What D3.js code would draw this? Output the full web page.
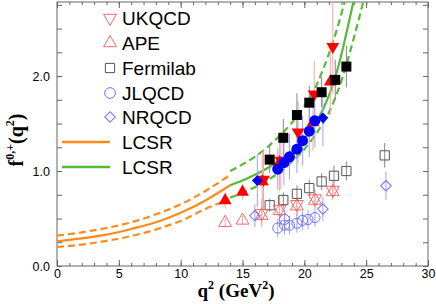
<!DOCTYPE html>
<html>
<head>
<meta charset="utf-8">
<script src="https://cdn.jsdelivr.net/npm/d3@7/dist/d3.min.js"></script>
<style>
  body { margin: 0; background: #fff; }
  svg { display: block; }
</style>
</head>
<body>
<svg id="chart" width="436" height="304"></svg>
<script>
// lattice data: [q2, f, error]
const ukqcdPlus = [[16.7, 0.91, 0.32], [18.1, 1.11, 0.30], [19.5, 1.41, 0.33], [20.8, 1.81, 0.35], [22.3, 2.31, 0.5]];
const apePlus = [[13.6, 0.69, 0.08], [15.0, 0.78, 0.08], [16.6, 0.89, 0.3], [18.0, 1.09, 0.3], [20.7, 1.51, 0.3], [22.1, 1.94, 0.35]];
const fermiPlus = [[17.2, 1.12, 0.14], [18.3, 1.35, 0.2], [19.4, 1.59, 0.23], [20.4, 1.72, 0.18], [21.4, 1.83, 0.16], [22.5, 1.96, 0.21], [23.4, 2.10, 0.22]];
const jlqcdPlus = [[17.85, 1.02, 0.22], [18.35, 1.09, 0.24], [18.8, 1.15, 0.24], [19.4, 1.23, 0.25], [19.86, 1.32, 0.26], [20.4, 1.42, 0.27], [20.85, 1.53, 0.28]];
const nrqcdPlus = [[16.2, 0.90, 0.28], [21.5, 1.56, 0.3]];

const ukqcdZero = [[16.55, 0.555, 0.15], [18.0, 0.60, 0.15], [19.4, 0.65, 0.12], [20.86, 0.71, 0.1], [22.3, 0.80, 0.1]];
const apeZero = [[13.6, 0.456, 0.05], [15.0, 0.48, 0.05], [16.55, 0.53, 0.1], [18.0, 0.58, 0.1], [19.4, 0.63, 0.1], [20.86, 0.69, 0.08], [22.3, 0.78, 0.08]];
const fermiZero = [[17.2, 0.64, 0.07], [18.3, 0.695, 0.08], [19.4, 0.76, 0.09], [20.4, 0.82, 0.09], [21.4, 0.89, 0.09], [22.4, 0.95, 0.11], [23.4, 1.00, 0.1], [26.5, 1.165, 0.13]];
const jlqcdZero = [[17.85, 0.40, 0.1], [18.4, 0.43, 0.1], [18.4, 0.49, 0.1], [18.8, 0.43, 0.1], [19.4, 0.45, 0.1], [19.85, 0.48, 0.1], [20.3, 0.49, 0.1], [20.86, 0.51, 0.1]];
const nrqcdZero = [[16.0, 0.53, 0.12], [21.5, 0.60, 0.13], [26.6, 0.845, 0.15]];

// LCSR curves [q2, f]
const orangeMid = [[0, 0.26], [2, 0.29], [4, 0.33], [6, 0.39], [8, 0.46], [10, 0.56], [12, 0.69], [14, 0.85]];
const orangeHigh = [[0, 0.32], [2, 0.355], [4, 0.40], [6, 0.46], [8, 0.545], [10, 0.65], [12, 0.79], [13.9, 0.95]];
const orangeLow = [[0, 0.20], [2, 0.225], [4, 0.265], [6, 0.315], [8, 0.385], [10, 0.475], [12, 0.60], [13.9, 0.70]];
const greenMid = [[14, 0.85], [15, 0.90], [16, 0.96], [17, 1.03], [18, 1.11], [19, 1.21], [20, 1.34], [21, 1.52], [22, 1.80], [22.75, 2.10], [23.4, 2.45], [24.0, 2.80]];
const greenHigh = [[14, 1.00], [15, 1.07], [16, 1.15], [17, 1.25], [18, 1.37], [19, 1.51], [20, 1.68], [21, 1.91], [22, 2.24], [22.7, 2.52], [23.3, 2.80]];
const greenLow = [[14, 0.72], [15, 0.77], [16, 0.83], [17, 0.90], [18, 0.99], [19, 1.10], [20, 1.23], [21, 1.40], [22, 1.62], [23, 1.95], [24.0, 2.40], [24.8, 2.80]];

const xMajor = [0, 5, 10, 15, 20, 25, 30];
const yMajor = [0, 1, 2];
const legendNames = ['UKQCD', 'APE', 'Fermilab', 'JLQCD', 'NRQCD', 'LCSR', 'LCSR'];

const svg = d3.select('#chart');
const pLeft = 57, pRight = 428, pTop = 2, pBottom = 266;

const x = d3.scaleLinear().domain([0, 30]).range([pLeft, pRight]);
const y = d3.scaleLinear().domain([0, 2.78]).range([pBottom, pTop]);

const ORANGE = '#ff8a1c', GREEN = '#55bb35';
const RED = '#ff0000', RED_OPEN = '#f06a6a', RED_BAR = '#f7a5a5';
const BLUE = '#0000ff', BLUE_OPEN = '#6f6fff', BLUE_BAR = '#a0a0ff';
const GRAY_OPEN = '#555', GRAY_BAR = '#888';

svg.append('defs').append('clipPath').attr('id', 'plot')
  .append('rect').attr('x', pLeft).attr('y', pTop).attr('width', pRight - pLeft).attr('height', pBottom - pTop);

// axes
const axisColor = '#666';
function styleAxis(g) {
  g.select('.domain').remove();
  g.selectAll('line').attr('stroke', axisColor);
  g.selectAll('text').attr('font-family', 'Liberation Sans, Arial, sans-serif').attr('font-size', 12.5).attr('fill', '#000');
}
svg.append('g').attr('transform', `translate(0,${pBottom})`)
  .call(d3.axisBottom(x).tickValues(d3.range(0, 31, 1)).tickSize(-3).tickFormat(''))
  .call(styleAxis);
svg.append('g').attr('transform', `translate(0,${pBottom})`)
  .call(d3.axisBottom(x).tickValues(xMajor).tickSize(-6).tickPadding(3).tickFormat(d3.format('d')))
  .call(styleAxis);
svg.append('g').attr('transform', `translate(0,${pTop})`)
  .call(d3.axisTop(x).tickValues(d3.range(0, 31, 1)).tickSize(-3).tickFormat(''))
  .call(styleAxis);
svg.append('g').attr('transform', `translate(0,${pTop})`)
  .call(d3.axisTop(x).tickValues(xMajor).tickSize(-6).tickFormat(''))
  .call(styleAxis);
svg.append('g').attr('transform', `translate(${pLeft},0)`)
  .call(d3.axisLeft(y).tickValues(d3.range(0, 2.76, 0.25)).tickSize(-5).tickFormat(''))
  .call(styleAxis);
svg.append('g').attr('transform', `translate(${pLeft},0)`)
  .call(d3.axisLeft(y).tickValues(yMajor).tickSize(-5).tickPadding(7).tickFormat(d3.format('.1f')))
  .call(styleAxis);
svg.append('g').attr('transform', `translate(${pRight},0)`)
  .call(d3.axisRight(y).tickValues(d3.range(0, 2.76, 0.25)).tickSize(-5).tickFormat(''))
  .call(styleAxis);
svg.append('rect').attr('x', pLeft).attr('y', pTop).attr('width', pRight - pLeft).attr('height', pBottom - pTop)
  .attr('fill', 'none').attr('stroke', axisColor).attr('stroke-width', 1);

// curves
const plot = svg.append('g').attr('clip-path', 'url(#plot)');
const line = d3.line().x(d => x(d[0])).y(d => y(d[1])).curve(d3.curveMonotoneX);
[[orangeMid, ORANGE, null], [orangeHigh, ORANGE, '7,4'], [orangeLow, ORANGE, '7,4'],
 [greenMid, GREEN, null], [greenHigh, GREEN, '7,4'], [greenLow, GREEN, '7,4']].forEach(([data, color, dash]) => {
  plot.append('path').datum(data).attr('d', line)
    .attr('fill', 'none').attr('stroke', color).attr('stroke-width', 2.2)
    .attr('stroke-dasharray', dash);
});

// diamonds are squares turned by 45 degrees
const sets = [
  { data: fermiZero, shape: d3.symbolSquare, size: 85, fill: 'none', stroke: GRAY_OPEN, bar: GRAY_BAR },
  { data: ukqcdZero, shape: d3.symbolTriangle, size: 72, rot: 180, fill: 'none', stroke: RED_OPEN, bar: RED_BAR },
  { data: apeZero, shape: d3.symbolTriangle, size: 72, fill: 'none', stroke: RED_OPEN, bar: RED_BAR },
  { data: jlqcdZero, shape: d3.symbolCircle, size: 80, fill: 'none', stroke: BLUE_OPEN, bar: BLUE_BAR },
  { data: nrqcdZero, shape: d3.symbolSquare, size: 55, rot: 45, fill: 'none', stroke: BLUE_OPEN, bar: BLUE_BAR },
  { data: apePlus, shape: d3.symbolTriangle, size: 72, fill: RED, stroke: 'none', bar: RED_BAR },
  { data: ukqcdPlus, shape: d3.symbolTriangle, size: 72, rot: 180, fill: RED, stroke: 'none', bar: RED_BAR },
  { data: nrqcdPlus, shape: d3.symbolSquare, size: 60, rot: 45, fill: BLUE, stroke: 'none', bar: BLUE_BAR },
  { data: fermiPlus, shape: d3.symbolSquare, size: 100, fill: '#000', stroke: 'none', bar: GRAY_BAR },
  { data: jlqcdPlus, shape: d3.symbolCircle, size: 95, fill: BLUE, stroke: 'none', bar: BLUE_BAR },
];
sets.forEach(s => {
  plot.selectAll(null).data(s.data).enter().append('line')
    .attr('x1', d => x(d[0])).attr('x2', d => x(d[0]))
    .attr('y1', d => y(d[1] - d[2])).attr('y2', d => y(d[1] + d[2]))
    .attr('stroke', s.bar).attr('stroke-width', 1);
});
sets.forEach(s => {
  plot.selectAll(null).data(s.data).enter().append('path')
    .attr('d', d3.symbol().type(s.shape).size(s.size))
    .attr('transform', d => `translate(${x(d[0])},${y(d[1])}) rotate(${s.rot || 0})`)
    .attr('fill', s.fill).attr('stroke', s.stroke).attr('stroke-width', 1);
});

// legend
const legend = svg.append('g');
const rowY = [18, 43, 68, 93, 117, 142, 167];
const legendMarks = [
  { shape: d3.symbolTriangle, size: 72, rot: 180, stroke: RED_OPEN },
  { shape: d3.symbolTriangle, size: 72, stroke: RED_OPEN },
  { shape: d3.symbolSquare, size: 85, stroke: GRAY_OPEN },
  { shape: d3.symbolCircle, size: 90, stroke: BLUE_OPEN },
  { shape: d3.symbolSquare, size: 55, rot: 45, stroke: BLUE_OPEN },
];
legendMarks.forEach((m, i) => {
  legend.append('path').attr('d', d3.symbol().type(m.shape).size(m.size))
    .attr('transform', `translate(110,${rowY[i]}) rotate(${m.rot || 0})`)
    .attr('fill', 'none').attr('stroke', m.stroke).attr('stroke-width', 1);
});
[ORANGE, GREEN].forEach((c, i) => {
  legend.append('line').attr('x1', 62).attr('x2', 110).attr('y1', rowY[5 + i]).attr('y2', rowY[5 + i])
    .attr('stroke', c).attr('stroke-width', 2.5);
});
legendNames.forEach((n, i) => {
  legend.append('text').attr('x', 122).attr('y', rowY[i] + 7)
    .attr('font-family', 'Liberation Sans, Arial, sans-serif').attr('font-size', 19)
    .text(n);
});

// axis titles
const xt = svg.append('text').attr('x', 236).attr('y', 297).attr('text-anchor', 'middle')
  .attr('font-family', 'Liberation Serif, Times New Roman, serif').attr('font-weight', 'bold').attr('font-size', 19);
xt.append('tspan').text('q');
xt.append('tspan').attr('font-size', 12).attr('dy', -8).text('2');
xt.append('tspan').attr('dy', 8).text(' (GeV');
xt.append('tspan').attr('font-size', 12).attr('dy', -8).text('2');
xt.append('tspan').attr('dy', 8).text(')');

const yt = svg.append('text').attr('transform', 'translate(23,140) rotate(-90)').attr('text-anchor', 'middle')
  .attr('font-family', 'Liberation Serif, Times New Roman, serif').attr('font-weight', 'bold').attr('font-size', 20);
yt.append('tspan').text('f');
yt.append('tspan').attr('font-size', 12).attr('dy', -9).text('0,+');
yt.append('tspan').attr('dy', 9).text('(q');
yt.append('tspan').attr('font-size', 12).attr('dy', -9).text('2');
yt.append('tspan').attr('dy', 9).text(')');
</script>
</body>
</html>
